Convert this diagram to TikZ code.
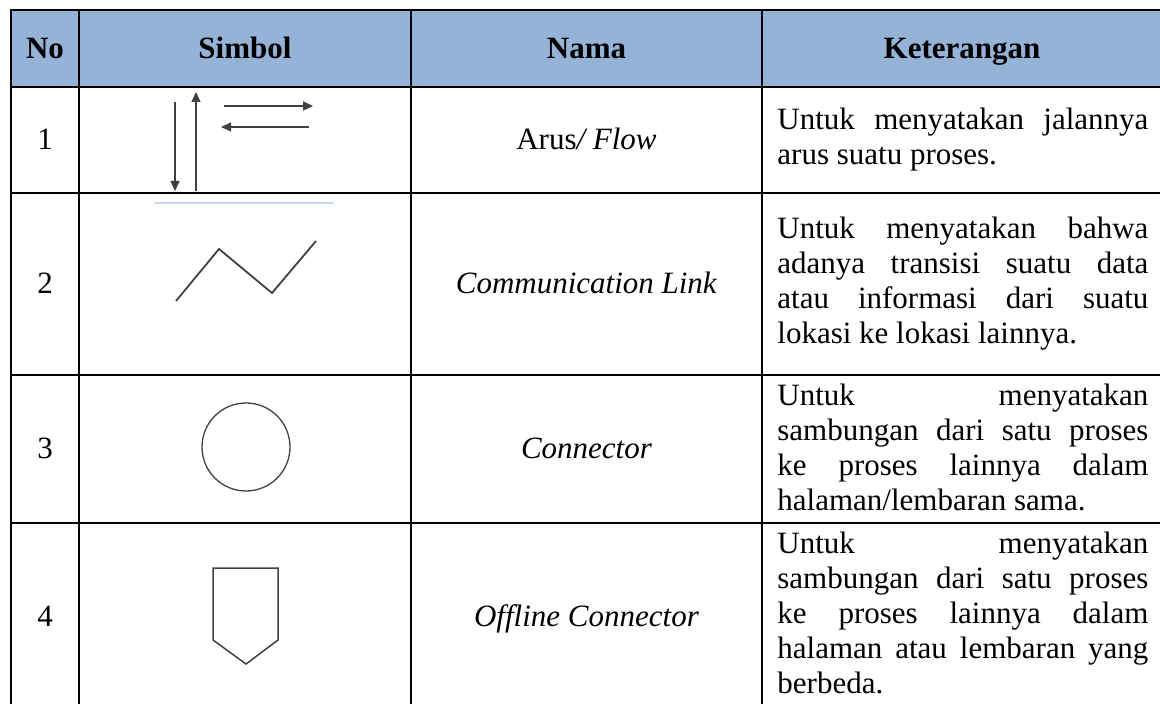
\documentclass[tikz,border=0pt]{standalone}
\usepackage{fontspec}
\setmainfont{Liberation Serif}
\usetikzlibrary{arrows.meta}
\usetikzlibrary{positioning}
\definecolor{headblue}{RGB}{149,179,215}
\definecolor{symgray}{RGB}{64,64,64}
\definecolor{faintblue}{RGB}{198,217,241}
\tikzstyle{txt}=[inner sep=0pt, anchor=base, font=\fontsize{15.5}{17.5}\selectfont]
\tikzstyle{headtxt}=[inner sep=0pt, anchor=base, font=\fontsize{15.5}{17.5}\selectfont\bfseries]
\tikzstyle{keterangan}=[inner sep=0pt, font=\fontsize{15.5}{17.5}\selectfont, text width=185.5pt, align=justify, execute at begin node={\hyphenpenalty=10000\strut}, execute at end node=\strut]
\tikzstyle{symbol}=[draw=symgray, line width=0.65pt]
\tikzstyle{flow}=[symbol, -{Triangle[length=5pt,width=4.5pt]}]
\tikzstyle{grid}=[line width=1.35pt, line cap=rect]

\begin{document}
\begin{tikzpicture}[x=0.5pt, y=-0.5pt]
\useasboundingbox (0,0) rectangle (1160,704);

%table
\fill[headblue] (11,10) rectangle (1162,87);
\foreach \y in {10,87,193,375,523,708}
    \draw[grid] (11,\y) -- (1162,\y);
\foreach \x in {11,79,411,762,1162}
    \draw[grid] (\x,10) -- (\x,708);

%header
\foreach \x/\name/\label in {45/hNo/No, 245/hSimbol/Simbol, 586.5/hNama/Nama, 962/hKet/Keterangan}
    \node[headtxt] (\name) at (\x,59) {\label};

%No and Nama
\foreach \y/\name/\label in {150/no1/1, 294/no2/2, 459/no3/3, 626/no4/4}
    \node[txt] (\name) at (45,\y) {\label};
\foreach \y/\name/\label in {150/nama1/{Arus\textit{/ Flow}}, 294/nama2/{\textit{Communication Link}}, 459/nama3/{\textit{Connector}}, 626/nama4/{\textit{Offline Connector}}}
    \node[txt] (\name) at (586.5,\y) {\label};

%Keterangan
\foreach \y/\anc/\name/\label in {
    140/west/ket1/{Untuk menyatakan jalannya\linebreak arus suatu proses.},
    284/west/ket2/{Untuk menyatakan bahwa\linebreak adanya transisi suatu data\linebreak atau informasi dari suatu\linebreak lokasi ke lokasi lainnya.},
    380.5/north west/ket3/{Untuk menyatakan\linebreak sambungan dari satu proses\linebreak ke proses lainnya dalam\linebreak halaman/lembaran sama.},
    528.5/north west/ket4/{Untuk menyatakan\linebreak sambungan dari satu proses\linebreak ke proses lainnya dalam\linebreak halaman atau lembaran yang\linebreak berbeda.}}
    \node[keterangan, anchor=\anc] (\name) at (777,\y) {\label};

%Arus
\coordinate (dnA) at (175,102); \coordinate (dnB) at (175,191);
\coordinate (upA) at (196,191); \coordinate (upB) at (196,92);
\coordinate (rtA) at (224,106); \coordinate (rtB) at (313,106);
\coordinate (ltA) at (309,127); \coordinate (ltB) at (221,127);
\foreach \source/\dest in {dnA/dnB, upA/upB, rtA/rtB, ltA/ltB}
    \draw[flow] (\source) -- (\dest);

%Communication link
\draw[faintblue, line width=0.6pt] (155,203) -- (333,203);
\draw[symbol, line width=0.9pt] (176,301) -- (219,249) -- (272,293) -- (316,241);

%Connector
\node[symbol, circle, minimum size=44pt, inner sep=0pt] (conn) at (246,447) {};

%Offline connector
\draw[symbol, line width=0.75pt] (213,568) -- (278,568) -- (278,640) -- (246,664) -- (213,640) -- cycle;

\end{tikzpicture}
\end{document}
